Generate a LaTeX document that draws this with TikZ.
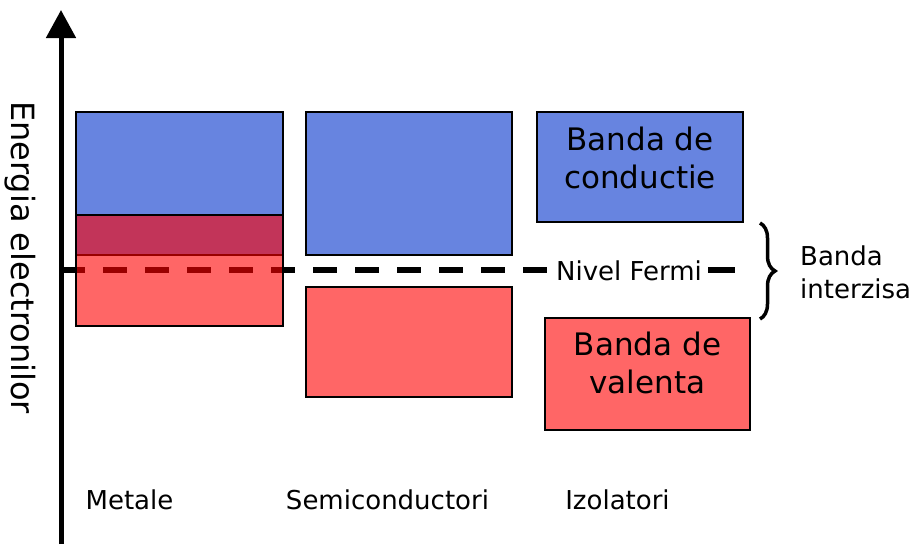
\documentclass[tikz,border=0pt]{standalone}
\usepackage{fontspec}
\setmainfont{DejaVu Sans}
\usetikzlibrary{arrows.meta,decorations.pathreplacing}
\definecolor{blueband}{RGB}{103,132,224}
\tikzset{
  band/.style={draw=black, line width=1.5pt, inner sep=0pt, outer sep=0pt},
  cband/.style={band, fill=blueband},
  vband/.style={band, fill=red, fill opacity=0.6, draw opacity=1},
  smalltxt/.style={font=\fontsize{26}{31}\selectfont, inner sep=0pt, text=black},
  bigtxt/.style={font=\fontsize{31}{38}\selectfont, inner sep=0pt, text=black, text opacity=1},
  axisline/.style={line width=5pt, -{Triangle[length=28pt 0 0, width=29pt 0 0]}},
  fermiline/.style={line width=6pt, dash pattern=on 24pt off 18pt},
  fermisolid/.style={line width=6pt},
  gapbrace/.style={line width=3.5pt, decorate, decoration={brace, amplitude=15pt}}
}
\begin{document}
\begin{tikzpicture}[x=1pt, y=-1pt]
\useasboundingbox (0,0) rectangle (913,544);
% conduction bands
\node[cband, minimum width=207pt, minimum height=143pt] (mcb) at (179.5,183.5) {};
\node[cband, minimum width=206pt, minimum height=143pt] (scb) at (409,183.5) {};
\node[cband, minimum width=206pt, minimum height=110pt] (icb) at (640,167) {};
% Fermi level
\coordinate (fs) at (61,270);
\coordinate (fe) at (735,270);
\node[smalltxt, inner xsep=6pt, anchor=base] (fermi) at (629,280) {Nivel Fermi};
\draw[fermiline] (fs) -- (fermi.west |- fs);
\draw[fermisolid] (fermi.east |- fe) -- (fe);
% valence bands
\node[vband, minimum width=207pt, minimum height=111pt] (mvb) at (179.5,270.5) {};
\node[vband, minimum width=206pt, minimum height=110pt] (svb) at (409,342) {};
\node[vband, minimum width=205pt, minimum height=112pt] (ivb) at (647.5,374) {};
% axis
\coordinate (axbot) at (61,544);
\coordinate (axtop) at (61,10);
\draw[axisline] (axbot) -- (axtop);
\node[font=\fontsize{32}{38}\selectfont, inner sep=0pt, rotate=-90, anchor=base] (axlabel) at (11,257.5) {Energia electronilor};
% band labels
\node[bigtxt, anchor=base] (ct1) at (640,150) {Banda de};
\node[bigtxt, anchor=base] (ct2) at (640,188) {conductie};
\node[bigtxt, anchor=base] (vt1) at (647.5,355) {Banda de};
\node[bigtxt, anchor=base] (vt2) at (647.5,393) {valenta};
% gap brace
\coordinate (bt) at (760,223);
\coordinate (bb) at (760,319);
\draw[gapbrace] (bt) -- (bb);
\node[smalltxt, anchor=base west] (gap1) at (800,265) {Banda};
\node[smalltxt, anchor=base west] (gap2) at (800,298) {interzisa};
% material labels
\node[smalltxt, anchor=base] (lm) at (129.5,509) {Metale};
\node[smalltxt, anchor=base] (ls) at (387.5,509) {Semiconductori};
\node[smalltxt, anchor=base] (li) at (617.5,509) {Izolatori};
\end{tikzpicture}
\end{document}
